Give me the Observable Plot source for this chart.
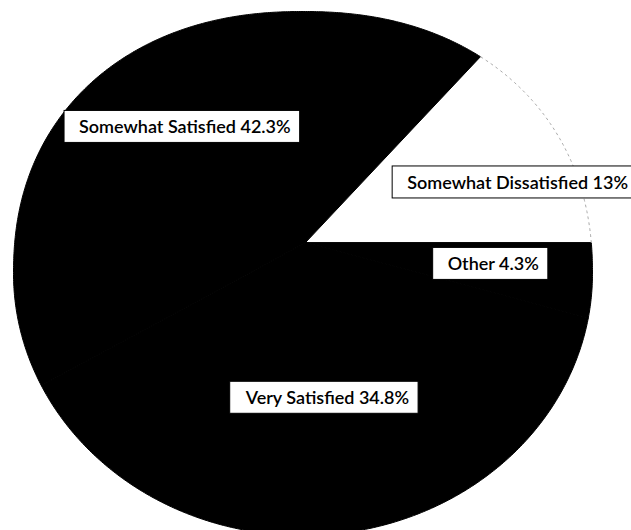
<!DOCTYPE html>
<html>
<head>
<meta charset="utf-8">
<script src="https://cdn.jsdelivr.net/npm/d3@7"></script>
<script src="https://cdn.jsdelivr.net/npm/@observablehq/plot@0.6"></script>
<style>
  html, body { margin: 0; padding: 0; background: #fff; }
  #chart { width: 631px; height: 530px; overflow: hidden; }
</style>
</head>
<body>
<div id="chart"></div>
<script>
// ---- data ----
const categories = ["Somewhat Dissatisfied", "Somewhat Satisfied", "Very Satisfied", "Other"];
const percents = [13, 42.3, 34.8, 4.3];

// ---- styles / layout settings ----
const sliceFill = {"Somewhat Dissatisfied": "#ffffff", "Somewhat Satisfied": "#000000", "Very Satisfied": "#000000", "Other": "#000000"};
const apex = {u: 0.0086, v: 0.118};          // pie apex, in the unit-outline frame
const pUpper = 2.2, pLower = 2.0;             // outline shape (scanned pie is slightly squarish on top)
const labelTweak = {
  "Somewhat Dissatisfied": {r: 0.767, da: -7.6},
  "Somewhat Satisfied": {r: 0.605, da: 3.3},
  "Very Satisfied": {r: 0.60, da: 0},
  "Other": {r: 0.654, da: 0.8}
};
const deg = Math.PI / 180;

function outline(x, y) {
  const p = y > 0 ? pUpper : pLower;
  return Math.pow(Math.abs(x), p) + Math.pow(Math.abs(y), p);
}
// ray from apex at angle th meets the outline (bisection)
function rim(th) {
  const dx = Math.cos(th), dy = Math.sin(th);
  let lo = 0, hi = 2.5;
  for (let k = 0; k < 50; k++) {
    const m = (lo + hi) / 2;
    if (outline(apex.u + m * dx, apex.v + m * dy) < 1) lo = m; else hi = m;
  }
  return {x: apex.u + lo * dx, y: apex.v + lo * dy};
}

const total = d3.sum(percents);
let acc = 0;
const slices = categories.map((c, i) => {
  const a0 = acc / total * 360;
  acc += percents[i];
  const a1 = acc / total * 360;
  const arc = [];
  const n = Math.max(2, Math.ceil((a1 - a0) * 2));
  for (let k = 0; k <= n; k++) arc.push(rim((a0 + (a1 - a0) * k / n) * deg));
  const poly = [{x: apex.u, y: apex.v}, ...arc, {x: apex.u, y: apex.v}];
  const tw = labelTweak[c];
  const mid = ((a0 + a1) / 2 + tw.da) * deg;
  return {
    name: c, pct: percents[i], arc, poly,
    lx: apex.u + tw.r * Math.cos(mid), ly: apex.v + tw.r * Math.sin(mid),
    label: `${c} ${percents[i]}%`
  };
});

const marks = [];
slices.forEach(s => {
  const f = sliceFill[s.name];
  marks.push(Plot.line(s.poly, {x: "x", y: "y", fill: f, stroke: f === "#000000" ? "#000" : "none", strokeWidth: 1}));
});
// faint dashed rim on the white wedge
const white = slices.find(s => sliceFill[s.name] === "#ffffff");
marks.push(Plot.line(white.arc, {x: "x", y: "y", stroke: "#aaa", strokeWidth: 1, strokeDasharray: "2,4"}));
marks.push(Plot.text(slices, {
  x: "lx", y: "ly", text: "label",
  fontSize: 18, fontFamily: "Lato, 'Noto Sans', sans-serif", fontWeight: 600,
  fill: "#000", textAnchor: "middle"
}));

const chart = Plot.plot({
  width: 631, height: 530,
  margin: 0,
  x: {domain: [-1, 1], range: [13, 592], axis: null},
  y: {domain: [-1, 1], range: [535, 11], axis: null},
  style: {background: "#fff", overflow: "hidden"},
  marks
});
document.getElementById("chart").appendChild(chart);

// white label boxes behind each label text
const svg = chart.tagName.toLowerCase() === "svg" ? chart : chart.querySelector("svg");
const sb = svg.getBoundingClientRect();
const texts = svg.querySelectorAll('g[aria-label="text"] text');
const textGroup = svg.querySelector('g[aria-label="text"]');
const boxG = document.createElementNS("http://www.w3.org/2000/svg", "g");
texts.forEach(t => {
  const b = t.getBoundingClientRect();
  const r = document.createElementNS("http://www.w3.org/2000/svg", "rect");
  const cy = b.top - sb.top + b.height / 2;
  r.setAttribute("x", b.left - sb.left - 15);
  r.setAttribute("y", cy - 16);
  r.setAttribute("width", b.width + 24);
  r.setAttribute("height", 32);
  r.setAttribute("fill", "#fff");
  r.setAttribute("stroke", "#000");
  r.setAttribute("stroke-width", 1);
  boxG.appendChild(r);
});
svg.insertBefore(boxG, textGroup);
</script>
</body>
</html>
